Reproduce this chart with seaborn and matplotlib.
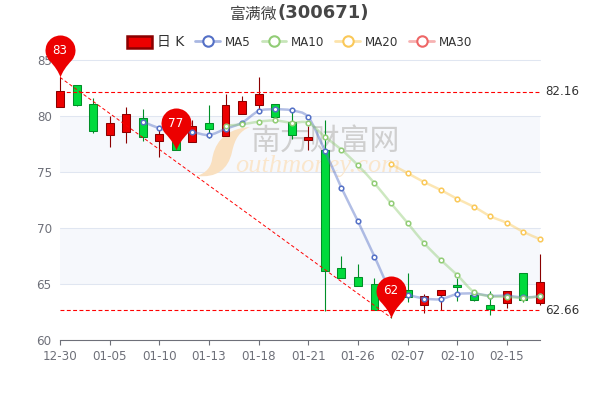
import numpy as np
import pandas as pd
import matplotlib
matplotlib.use("Agg")
import matplotlib.pyplot as plt
import seaborn as sns
from matplotlib.colors import to_rgba
from matplotlib.lines import Line2D
from matplotlib.patches import PathPatch, Patch
from matplotlib.path import Path
from matplotlib.transforms import Affine2D

# ---------- data ----------
tick_labels = ["12-30", "01-05", "01-10", "01-13", "01-18", "01-21", "01-26", "02-07", "02-10", "02-15"]
tick_step = 3

body_top = [82.2, 82.8, 81.05, 79.4, 80.2, 79.8, 78.35, 78.2, 79.15, 79.4, 80.95, 81.3, 81.95, 81.1, 79.5,
            78.1, 77.0, 66.45, 65.6, 65.0, 64.5, 64.5, 63.95, 64.45, 64.95, 64.0, 63.1, 64.4, 65.95, 65.15]
body_bottom = [80.8, 81.0, 78.7, 78.3, 78.55, 78.1, 77.8, 76.95, 77.7, 78.8, 78.2, 80.2, 81.0, 79.9, 78.3,
               77.9, 66.2, 65.5, 64.85, 62.7, 63.5, 63.8, 63.1, 64.0, 64.75, 63.6, 62.75, 63.3, 63.55, 63.3]
high = [83.45, 82.8, 81.65, 80.0, 80.8, 80.6, 79.1, 79.0, 79.6, 81.0, 81.95, 81.8, 83.45, 81.1, 80.4,
        79.1, 79.65, 67.5, 66.8, 65.5, 64.8, 66.0, 64.1, 64.5, 65.5, 64.2, 64.4, 64.4, 65.95, 67.7]
low = [80.8, 80.85, 78.5, 77.2, 77.6, 77.8, 76.3, 76.95, 77.65, 78.0, 78.2, 80.2, 80.6, 79.9, 77.95,
       77.0, 62.6, 65.5, 64.85, 62.7, 62.0, 63.4, 62.4, 62.7, 63.5, 63.5, 62.25, 62.9, 63.35, 63.1]
is_up = [1, 0, 0, 1, 1, 0, 1, 0, 1, 0, 1, 1, 1, 0, 0, 1, 0, 0, 0, 0, 0, 0, 1, 1, 0, 0, 0, 1, 0, 1]

ma5 = [79.5, 78.9, 78.5, 78.55, 78.3, 78.85, 79.4, 80.45, 80.6, 80.5, 79.9, 76.9, 73.6, 70.6, 67.45,
       64.4, 64.05, 63.7, 63.65, 64.1, 64.15, 63.95, 63.95, 63.8, 63.9]
ma10 = [79.15, 79.25, 79.5, 79.6, 79.4, 79.4, 78.15, 77.0, 75.6, 74.0, 72.2, 70.45, 68.65, 67.15, 65.8,
        64.3, 63.9, 63.85, 63.75, 63.9]
ma20 = [75.7, 74.9, 74.1, 73.4, 72.6, 71.9, 71.05, 70.45, 69.65, 69.0]

line_high = 82.16
line_low = 62.66
pin_idx = [0, 7, 20]
pin_val = [83.45, 76.95, 62.0]
pin_text = ["83", "77", "62"]

RED, RED_DK = "#ec0000", "#8a0000"
GREEN, GREEN_DK = "#00da3c", "#008f28"
C_MA5, C_MA10, C_MA20, C_MA30 = "#5470c6", "#91cc75", "#fac858", "#ee6666"
GRAY = "#6e7079"

# ---------- figure ----------
sns.set_theme(style="white")
plt.rcParams["font.family"] = ["DejaVu Sans", "Noto Sans CJK SC"]

fig = plt.figure(figsize=(6, 4), dpi=100)
ax = fig.add_axes([60 / 600, 60 / 400, 480 / 600, 280 / 400])
ax.set_xlim(0, 29)
ax.set_ylim(60, 85)
px = Affine2D().scale(1, -1).translate(0, 400)  # screen pixels, y down

# split bands and grid
for lo, hi, c in [(60, 65, "#ffffff"), (65, 70, "#f6f8fc"), (70, 75, "#ffffff"), (75, 80, "#f6f8fc"), (80, 85, "#ffffff")]:
    ax.axhspan(lo, hi, color=c, lw=0, zorder=0)
for v in range(65, 90, 5):
    ax.axhline(v, color="#e0e6f1", lw=0.75, zorder=1, clip_on=False)

# watermark, under the candles and lines
swoosh = Path([(250, 127), (222, 129), (214, 146), (212, 160), (210, 170), (203, 174), (197, 176),
               (216, 178), (228, 170), (232, 152), (235, 138), (240, 131), (250, 127), (250, 127)],
              [Path.MOVETO] + [Path.CURVE4] * 12 + [Path.CLOSEPOLY])
ax.add_patch(PathPatch(swoosh, fc="#f9e0c0", ec="none", transform=px, zorder=1.5))
ax.text(325 / 600, 1 - 141 / 400, "南方财富网", color="#cfcfcf", fontsize=21.5, ha="center", va="center",
        family=["Noto Sans CJK SC"], fontweight="medium", transform=fig.transFigure, zorder=1.5)
ax.text(318 / 600, 1 - 166 / 400, "outhmoney.com", color="#fae6cc", fontsize=19, ha="center", va="center",
        family="Liberation Serif", style="italic", transform=fig.transFigure, zorder=1.5)

df = pd.DataFrame({"x": np.arange(len(high)), "top": body_top, "bottom": body_bottom,
                   "high": high, "low": low, "up": is_up})

# candles
for r in df.itertuples():
    fc, ec = (RED, RED_DK) if r.up else (GREEN, GREEN_DK)
    ax.vlines(r.x, r.low, r.high, color=ec, lw=0.8, zorder=3, clip_on=False)
    ax.bar(r.x, r.top - r.bottom, bottom=r.bottom, width=0.48, color=fc, edgecolor=ec, lw=0.75, zorder=3, clip_on=False)


def smooth_patch(xs, ys, color):
    # bezier through the values, same idea as a smoothed echarts line
    p = np.column_stack([xs, ys])
    t = np.gradient(p, axis=0)
    verts = [p[0]]
    codes = [Path.MOVETO]
    for i in range(len(p) - 1):
        verts += [p[i] + t[i] * 0.3, p[i + 1] - t[i + 1] * 0.3, p[i + 1]]
        codes += [Path.CURVE4] * 3
    return PathPatch(Path(verts, codes), fc="none", ec=to_rgba(color, 0.45), lw=1.8, zorder=4, capstyle="round")


# moving averages
for vals, color in [(ma5, C_MA5), (ma10, C_MA10), (ma20, C_MA20)]:
    xs = np.arange(30 - len(vals), 30)
    ax.add_patch(smooth_patch(xs, vals, color))
    sns.scatterplot(x=xs, y=vals, ax=ax, s=11, color="white", edgecolor=color, linewidth=1.1, zorder=5,
                    clip_on=False, legend=False)

# mark lines
for v, lab in [(line_high, "82.16"), (line_low, "62.66")]:
    ax.plot([0, 29], [v, v], color="#ff0000", lw=0.8, dashes=(3.5, 2.2), zorder=6)
    ax.annotate(lab, (29, v), xytext=(3.6, 0), textcoords="offset points", ha="left", va="center",
                fontsize=8.6, color="#333333", annotation_clip=False)
ax.plot([pin_idx[0], pin_idx[2]], [pin_val[0], pin_val[2]], color="#ff0000", lw=0.7, dashes=(3.5, 2.5), zorder=6)

# pins
arc = Path.arc(-40, 220)
a_verts = arc.vertices * 15 + [0, 27]
pin_path = Path(np.vstack([a_verts, [[-2.5, 8], [0, 0], [2.5, 8], a_verts[0]]]),
                list(arc.codes) + [Path.CURVE3] * 4)
for i, v, s in zip(pin_idx, pin_val, pin_text):
    ax.plot([i], [v], marker=pin_path, ms=60.5, color=RED, mec="none", zorder=8, clip_on=False, ls="none")
    ax.annotate(s, (i, v), xytext=(0, 19.4), textcoords="offset points", ha="center", va="center",
                fontsize=8.6, color="white", zorder=9, annotation_clip=False)

# axes
sns.despine(ax=ax, left=True, top=True, right=True)
ax.spines["bottom"].set_color(GRAY)
ax.spines["bottom"].set_linewidth(0.8)
ax.spines["bottom"].set_zorder(2)
ax.set_xticks(range(0, 30, tick_step))
ax.set_xticklabels(tick_labels)
ax.set_yticks(range(60, 90, 5))
ax.tick_params(axis="x", length=3.6, width=0.8, color=GRAY, labelcolor=GRAY, labelsize=8.6, pad=3.5, bottom=True)
ax.tick_params(axis="y", length=0, labelcolor=GRAY, labelsize=8.6, pad=6)

# legend and title
handles = [Patch(fc=RED, ec=RED_DK, lw=1.8, joinstyle="round")]
for color in [C_MA5, C_MA10, C_MA20, C_MA30]:
    handles.append(Line2D([], [], color=to_rgba(color, 0.5), lw=2, marker="o", ms=7.5, mfc="white", mec=color, mew=1.5))
leg = fig.legend(handles, ["日 K", "MA5", "MA10", "MA20", "MA30"], loc="center", bbox_to_anchor=(300 / 600, 1 - 42 / 400),
                 ncol=5, frameon=False, fontsize=8.6, handlelength=2.08, handleheight=1.1, handletextpad=0.42,
                 columnspacing=0.9, labelcolor="#333333", borderpad=0, borderaxespad=0)
leg.get_texts()[0].set_fontsize(10)
fig.text(277.5 / 600, 1 - 14 / 400, "富满微", fontsize=11.4, color="#464646", ha="right", va="center",
         family=["Noto Sans CJK SC"])
fig.text(277.5 / 600, 1 - 13 / 400, "(300671)", fontsize=13, fontweight="bold", color="#464646", ha="left", va="center")

fig.savefig("out.png", dpi=100)
